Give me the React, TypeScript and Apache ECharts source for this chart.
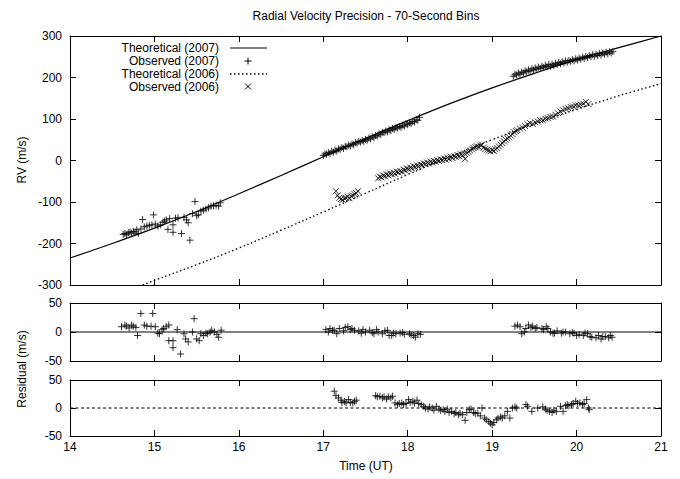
import React, { useEffect, useRef } from "react";
import * as echarts from "echarts";

const FONT = "'Liberation Sans', Arial, Helvetica, sans-serif";

const titleText = "Radial Velocity Precision - 70-Second Bins";

// Theoretical curves
const th2007T = [14, 14.5, 15, 15.5, 16, 16.5, 17, 17.5, 18, 18.5, 19, 19.5, 20, 20.5, 21];
const th2007V = [-235, -200, -163, -123, -80, -36, 9, 53, 96, 137, 175, 210, 243, 272, 300];
const th2006T = [14.86, 15, 15.5, 16, 16.5, 17, 17.5, 18, 18.5, 19, 19.5, 20, 20.5, 21];
const th2006V = [-300, -289, -251, -211, -168, -124, -79, -34, 9, 50, 88, 123, 156, 185];

// Observed 2007 (RV)
const obs2007T = [
  14.63, 14.65, 14.67, 14.69, 14.71, 14.73, 14.75, 14.77, 14.79, 14.81, 14.84, 14.86, 14.88, 14.91, 14.94, 14.97,
  14.99, 15.01, 15.04, 15.07, 15.1, 15.12, 15.14, 15.16, 15.18, 15.22, 15.22, 15.25, 15.28, 15.32, 15.35, 15.38,
  15.4, 15.42, 15.45, 15.48, 15.5, 15.52, 15.55, 15.58, 15.61, 15.64, 15.67, 15.7, 15.73, 15.76, 15.78,
  17.0, 17.02, 17.04, 17.06, 17.08, 17.1, 17.12, 17.14, 17.16, 17.18, 17.2, 17.22, 17.24, 17.26, 17.28, 17.3,
  17.32, 17.34, 17.36, 17.38, 17.4, 17.42, 17.44, 17.46, 17.48, 17.5, 17.52, 17.54, 17.56, 17.58, 17.6, 17.62,
  17.64, 17.66, 17.68, 17.7, 17.72, 17.74, 17.76, 17.78, 17.8, 17.82, 17.84, 17.86, 17.88, 17.9, 17.92, 17.94,
  17.96, 17.98, 18.0, 18.02, 18.04, 18.06, 18.08, 18.1, 18.12, 18.14,
  19.25, 19.27, 19.29, 19.31, 19.33, 19.35, 19.37, 19.39, 19.41, 19.43, 19.45, 19.47, 19.49, 19.51, 19.53, 19.55,
  19.57, 19.59, 19.61, 19.63, 19.65, 19.67, 19.69, 19.71, 19.73, 19.75, 19.77, 19.79, 19.81, 19.83, 19.85, 19.87,
  19.89, 19.91, 19.93, 19.95, 19.97, 19.99, 20.01, 20.03, 20.05, 20.07, 20.09, 20.11, 20.13, 20.15, 20.17, 20.19,
  20.21, 20.23, 20.25, 20.27, 20.29, 20.31, 20.33, 20.35, 20.37, 20.39, 20.41, 20.43,
];
const obs2007V = [
  -178, -176, -179, -174, -172, -175, -171, -172, -167, -176, -165, -142, -160, -158, -156, -155,
  -131, -153, -158, -155, -149, -146, -143, -166, -140, -155, -173, -139, -138, -176, -137, -143,
  -150, -192, -128, -99, -133, -131, -122, -120, -117, -114, -110, -109, -108, -110, -102,
  12, 16, 15, 19, 17, 22, 20, 25, 23, 28, 27, 31, 29, 34, 33, 37,
  35, 40, 38, 43, 42, 46, 44, 48, 46, 51, 49, 54, 52, 57, 55, 60,
  59, 64, 63, 68, 67, 71, 69, 74, 72, 77, 75, 79, 78, 82, 80, 85,
  83, 88, 86, 91, 89, 94, 93, 98, 97, 104,
  203, 208, 206, 211, 208, 213, 211, 216, 214, 218, 216, 221, 218, 223, 220, 225,
  222, 227, 224, 229, 226, 231, 227, 232, 229, 234, 231, 236, 233, 238, 235, 240,
  237, 241, 239, 243, 240, 245, 242, 247, 244, 249, 246, 251, 248, 253, 250, 255,
  251, 256, 253, 258, 254, 259, 256, 261, 257, 262, 259, 263,
];

// Observed 2006 (RV)
const obs2006T = [
  17.15, 17.17, 17.19, 17.21, 17.23, 17.25, 17.27, 17.29, 17.31, 17.33, 17.35, 17.37, 17.39, 17.41,
  17.65, 17.67, 17.69, 17.71, 17.73, 17.75, 17.77, 17.79, 17.81, 17.83, 17.85, 17.87, 17.89, 17.91, 17.93, 17.95,
  17.97, 17.99, 18.01, 18.03, 18.05, 18.07, 18.09, 18.11, 18.13, 18.15, 18.17, 18.19, 18.21, 18.23, 18.25, 18.27,
  18.29, 18.31, 18.33, 18.35, 18.37, 18.39, 18.41, 18.43, 18.45, 18.47, 18.49, 18.51, 18.53, 18.55, 18.57, 18.59,
  18.61, 18.63, 18.65, 18.67, 18.68, 18.7, 18.72, 18.74, 18.76, 18.78, 18.8, 18.82, 18.84, 18.86, 18.88, 18.9,
  18.92, 18.94, 18.96, 18.98, 19.0, 19.02, 19.04, 19.06, 19.08, 19.1, 19.12, 19.14, 19.16, 19.18, 19.2, 19.22,
  19.24, 19.26, 19.28, 19.3, 19.33, 19.36, 19.39, 19.42, 19.45, 19.48, 19.51, 19.54, 19.57, 19.6, 19.63, 19.66,
  19.69, 19.72, 19.75, 19.78, 19.81, 19.84, 19.87, 19.9, 19.93, 19.96, 19.99, 20.02, 20.05, 20.08, 20.11, 20.14,
];
const obs2006V = [
  -74, -84, -90, -93, -95, -91, -90, -87, -91, -86, -84, -81, -79, -74,
  -43, -39, -41, -36, -38, -33, -36, -31, -33, -29, -32, -27, -29, -25, -27, -22,
  -24, -19, -21, -17, -19, -14, -16, -12, -14, -10, -11, -7, -9, -5, -7, -3,
  -5, -1, -3, 1, -1, 3, 1, 5, 2, 7, 4, 9, 6, 11, 8, 13,
  10, 15, 12, 17, 4, 18, 21, 24, 27, 30, 32, 34, 33, 36, 38, 31,
  28, 26, 24, 22, 25, 23, 27, 30, 34, 38, 42, 46, 50, 53, 56, 60,
  64, 68, 71, 73, 77, 79, 83, 87, 90, 88, 92, 94, 97, 97, 101, 102,
  105, 106, 110, 114, 118, 121, 124, 126, 129, 130, 133, 133, 135, 137, 141, 136,
];

// Residuals 2007 (middle panel)
const res2007T = [
  14.61, 14.65, 14.67, 14.7, 14.73, 14.75, 14.78, 14.8, 14.84, 14.88, 14.91, 14.96, 14.98, 15.01, 15.04, 15.06,
  15.09, 15.11, 15.14, 15.17, 15.17, 15.22, 15.22, 15.27, 15.31, 15.35, 15.37, 15.4, 15.45, 15.47, 15.5, 15.53,
  15.55, 15.58, 15.61, 15.63, 15.66, 15.68, 15.71, 15.74, 15.76, 15.79,
  17.03, 17.06, 17.08, 17.11, 17.13, 17.16, 17.19, 17.24, 17.26, 17.29, 17.32, 17.34, 17.37, 17.42, 17.45, 17.47,
  17.5, 17.55, 17.58, 17.6, 17.63, 17.65, 17.7, 17.73, 17.76, 17.78, 17.81, 17.83, 17.86, 17.91, 17.94, 17.96,
  18.02, 18.04, 18.07, 18.09, 18.12, 18.15,
  19.27, 19.3, 19.33, 19.35, 19.38, 19.4, 19.43, 19.46, 19.48, 19.51, 19.53, 19.59, 19.61, 19.64, 19.66, 19.69,
  19.72, 19.74, 19.77, 19.82, 19.84, 19.87, 19.92, 19.95, 19.97, 20.0, 20.03, 20.08, 20.1, 20.13, 20.16, 20.18,
  20.23, 20.26, 20.29, 20.31, 20.34, 20.38, 20.4, 20.42,
];
const res2007V = [
  9, 12, 10, 7, 12, 10, 8, -6, 32, 12, 10, 10, 32, 9, -2, -3,
  4, 6, 9, 12, -15, -15, -27, 4, -38, -3, -12, -17, 0, 23, -12, -15,
  -3, -6, -2, -3, 0, 3, 0, -4, -9, 3,
  4, 0, 6, 3, 3, -3, 6, 2, 8, 9, 4, 6, 3, 2, -2, 4,
  0, 3, -1, -3, 4, 0, -3, 2, 3, -6, -6, -2, -3, -2, -1, -4,
  -3, -5, -6, -9, -3, -4,
  10, 12, 9, -3, 0, 6, 12, 8, 10, 6, 8, 6, 4, 9, 6, 0,
  -2, -2, 2, -2, 0, 0, -3, -1, -2, -6, -4, -6, -2, -3, -8, -9,
  -10, -6, -12, -8, -8, -10, -6, -9,
];

// Residuals 2006 (bottom panel)
const res2006T = [
  17.13, 17.15, 17.18, 17.21, 17.22, 17.25, 17.27, 17.3, 17.32, 17.35, 17.37, 17.39,
  17.62, 17.64, 17.67, 17.7, 17.72, 17.75, 17.77, 17.8, 17.82, 17.85, 17.88, 17.9, 17.93, 17.95, 17.98, 18.01,
  18.03, 18.06, 18.08, 18.11, 18.13, 18.16, 18.19, 18.21, 18.24, 18.26, 18.29, 18.31, 18.34, 18.37, 18.39, 18.42,
  18.44, 18.47, 18.49, 18.52, 18.55, 18.57, 18.6, 18.62, 18.65, 18.68, 18.7, 18.73, 18.75, 18.78, 18.8, 18.83,
  18.86, 18.88, 18.91, 18.93, 18.96, 18.98, 19.0, 19.02, 19.05, 19.07, 19.1, 19.12, 19.15, 19.18, 19.21, 19.24,
  19.27, 19.29, 19.4, 19.42, 19.47, 19.54, 19.6, 19.63, 19.65, 19.68, 19.71, 19.73, 19.76, 19.81, 19.84, 19.87,
  19.89, 19.91, 19.94, 19.96, 19.99, 20.01, 20.04, 20.07, 20.09, 20.12, 20.14, 20.15,
];
const res2006V = [
  30, 22, 18, 14, 10, 12, 9, 15, 10, 9, 12, 14,
  22, 20, 21, 18, 20, 16, 20, 18, 21, 9, 6, 8, 9, 6, 8, 15,
  10, 12, 9, 14, 8, 6, 3, 0, -2, 2, 0, -4, 3, -2, -4, -3,
  -6, -2, -8, -6, -10, -8, -12, -9, -12, -22, -8, -3, -2, -8, -10, -9,
  -14, 0, -18, -21, -24, -27, -30, -26, -21, -18, -16, -18, -14, -6, -18, 0,
  2, 0, 6, 3, -6, 0, 2, -2, -4, -6, -8, -4, -6, 3, -6, 4,
  6, 4, 6, 8, 12, 8, 9, 6, 8, 15, 0, -3,
];

const zeroLineT = [14, 21];
const zeroLineV = [0, 0];

const PLUS = "path://M0,5L10,5M5,0L5,10";
const CROSS = "path://M0,0L10,10M10,0L0,10";

const zip = (a: number[], b: number[]) => a.map((t, i) => [t, b[i]]);

export default function App() {
  const ref = useRef<HTMLDivElement>(null);
  useEffect(() => {
    if (!ref.current) return;
    const chart = echarts.init(ref.current, undefined, { renderer: "svg" });
    const L = 70;
    const R = 19;
    const grids = [
      { left: L, right: R, top: 36, height: 249 },
      { left: L, right: R, top: 303, height: 58 },
      { left: L, right: R, top: 380, height: 56 },
    ];
    const axisLine = { show: true, onZero: false, lineStyle: { color: "#000", width: 1 } };
    const tick = (len: number) => ({ show: true, inside: true, length: len, lineStyle: { color: "#000", width: 1 } });
    const xAxes: any[] = [];
    const yAxes: any[] = [];
    const yRanges = [
      { min: -300, max: 300, interval: 100 },
      { min: -50, max: 50, interval: 50 },
      { min: -50, max: 50, interval: 50 },
    ];
    grids.forEach((g, gi) => {
      ["bottom", "top"].forEach((pos) => {
        xAxes.push({
          type: "value",
          gridIndex: gi,
          position: pos,
          min: 14,
          max: 21,
          interval: 1,
          axisLine,
          axisTick: tick(6),
          splitLine: { show: false },
          axisLabel: {
            show: gi === 2 && pos === "bottom",
            color: "#000",
            fontFamily: FONT,
            fontSize: 12,
            margin: 5,
          },
        });
      });
      ["left", "right"].forEach((pos) => {
        yAxes.push({
          type: "value",
          gridIndex: gi,
          position: pos,
          ...yRanges[gi],
          axisLine,
          axisTick: tick(6),
          splitLine: { show: false },
          axisLabel: {
            show: pos === "left",
            color: "#000",
            fontFamily: FONT,
            fontSize: 12,
            margin: 8,
          },
        });
      });
    });

    const textStyle = (text: string, x: number, y: number, align = "center", rot = 0) => ({
      type: "text",
      x,
      y,
      rotation: rot,
      style: {
        text,
        fill: "#000",
        font: `12px ${FONT}`,
        align,
        verticalAlign: "middle",
      },
    });

    const lx1 = 230;
    const lx2 = 267;
    const lxc = 248;
    const rows = [48, 61, 74, 86.5];
    const stroke = { stroke: "#000", lineWidth: 1 };
    const markStyle = { color: "rgba(0,0,0,0)", borderColor: "#000", borderWidth: 1 };

    chart.setOption({
      animation: false,
      grid: grids,
      xAxis: xAxes,
      yAxis: yAxes,
      series: [
        {
          type: "line",
          xAxisIndex: 0,
          yAxisIndex: 0,
          data: zip(th2007T, th2007V),
          smooth: 0.4,
          showSymbol: false,
          lineStyle: { color: "#000", width: 1.2 },
          z: 2,
        },
        {
          type: "scatter",
          xAxisIndex: 0,
          yAxisIndex: 0,
          data: zip(obs2007T, obs2007V),
          symbol: PLUS,
          symbolSize: 7,
          itemStyle: markStyle,
          z: 3,
        },
        {
          type: "line",
          xAxisIndex: 0,
          yAxisIndex: 0,
          data: zip(th2006T, th2006V),
          smooth: 0.4,
          showSymbol: false,
          lineStyle: { color: "#000", width: 1.3, type: [1.5, 2.5] },
          z: 2,
        },
        {
          type: "scatter",
          xAxisIndex: 0,
          yAxisIndex: 0,
          data: zip(obs2006T, obs2006V),
          symbol: CROSS,
          symbolSize: 6,
          itemStyle: markStyle,
          z: 3,
        },
        {
          type: "line",
          xAxisIndex: 2,
          yAxisIndex: 2,
          data: zip(zeroLineT, zeroLineV),
          showSymbol: false,
          lineStyle: { color: "#000", width: 1 },
        },
        {
          type: "scatter",
          xAxisIndex: 2,
          yAxisIndex: 2,
          data: zip(res2007T, res2007V),
          symbol: PLUS,
          symbolSize: 7,
          itemStyle: markStyle,
        },
        {
          type: "line",
          xAxisIndex: 4,
          yAxisIndex: 4,
          data: zip(zeroLineT, zeroLineV),
          showSymbol: false,
          lineStyle: { color: "#000", width: 1, type: [3, 2.5] },
        },
        {
          type: "scatter",
          xAxisIndex: 4,
          yAxisIndex: 4,
          data: zip(res2006T, res2006V),
          symbol: PLUS,
          symbolSize: 7,
          itemStyle: markStyle,
        },
      ],
      graphic: [
        textStyle(titleText, 366, 16),
        textStyle("Time (UT)", 366, 466),
        textStyle("RV (m/s)", 22, 160, "center", Math.PI / 2),
        textStyle("Residual (m/s)", 22, 369, "center", Math.PI / 2),
        textStyle("Theoretical (2007)", 219, rows[0], "right"),
        textStyle("Observed (2007)", 219, rows[1], "right"),
        textStyle("Theoretical (2006)", 219, rows[2], "right"),
        textStyle("Observed (2006)", 219, rows[3], "right"),
        { type: "line", shape: { x1: lx1, y1: rows[0], x2: lx2, y2: rows[0] }, style: stroke },
        { type: "line", shape: { x1: lxc - 3.5, y1: rows[1], x2: lxc + 3.5, y2: rows[1] }, style: stroke },
        { type: "line", shape: { x1: lxc, y1: rows[1] - 3.5, x2: lxc, y2: rows[1] + 3.5 }, style: stroke },
        {
          type: "line",
          shape: { x1: lx1, y1: rows[2], x2: lx2, y2: rows[2] },
          style: { stroke: "#000", lineWidth: 1.3, lineDash: [1.5, 2.5] },
        },
        { type: "line", shape: { x1: lxc - 3, y1: rows[3] - 3, x2: lxc + 3, y2: rows[3] + 3 }, style: stroke },
        { type: "line", shape: { x1: lxc - 3, y1: rows[3] + 3, x2: lxc + 3, y2: rows[3] - 3 }, style: stroke },
      ],
    });
    return () => chart.dispose();
  }, []);
  return (
    <div
      ref={ref}
      style={{ position: "fixed", left: 0, top: 0, width: 680, height: 479, background: "#fff" }}
    />
  );
}
